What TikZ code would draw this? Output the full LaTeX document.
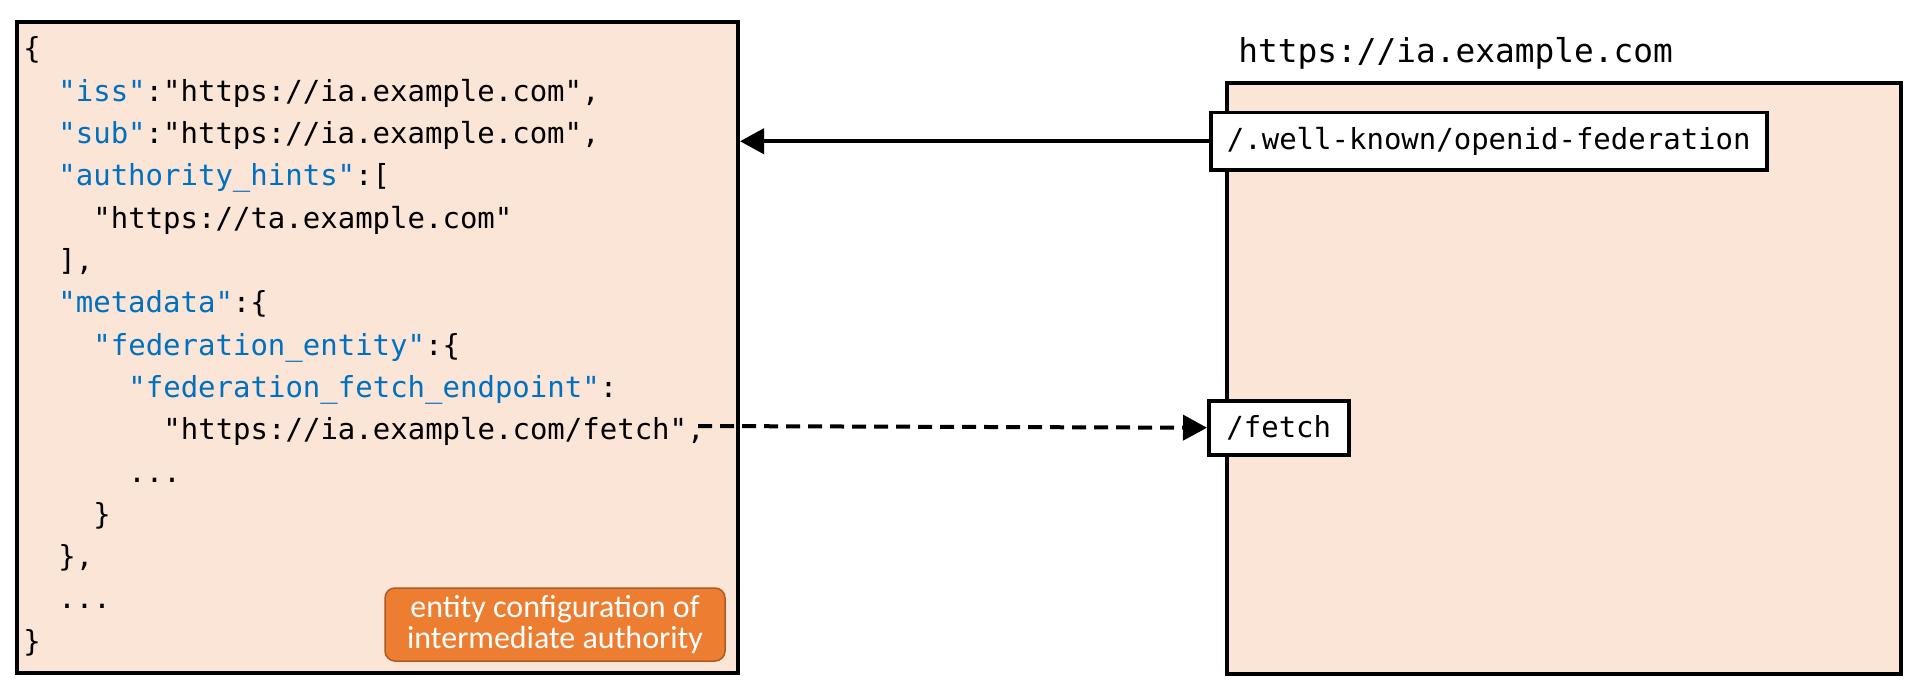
\documentclass[tikz,border=0pt]{standalone}
\usepackage{fontspec}
\usetikzlibrary{arrows.meta}
\newfontfamily\codefont{DejaVu Sans Mono}
\newfontfamily\labelfont{Carlito}
\definecolor{boxfill}{RGB}{251,229,214}
\definecolor{keyblue}{RGB}{0,112,192}
\definecolor{tagorange}{RGB}{237,125,49}
\definecolor{tagborder}{RGB}{174,90,33}
\newcommand{\ky}[1]{\textcolor{keyblue}{#1}}
\begin{document}
\begin{tikzpicture}[x=0.5pt,y=-0.5pt,
  panel/.style={draw=black, line width=2pt, fill=boxfill, inner sep=0pt, anchor=north west},
  endpoint/.style={draw=black, line width=1.75pt, fill=white, inner sep=0pt, anchor=north west,
    font=\codefont\fontsize{14.5}{17}\selectfont},
  code/.style={anchor=base west, inner sep=0pt, font=\codefont\fontsize{14.5}{17}\selectfont},
  title/.style={anchor=base west, inner sep=0pt, font=\codefont\fontsize{16.4}{19}\selectfont},
  tag/.style={draw=tagborder, line width=0.75pt, fill=tagorange, rounded corners=5pt, text=white,
    align=center, inner sep=0pt, minimum width=170pt, minimum height=36.5pt,
    font=\labelfont\fontsize{16}{15.3}\selectfont},
  conn/.style={line width=2pt, -{Triangle[length=12pt,width=12.5pt]}}
]
\useasboundingbox (0,0) rectangle (1920,690);

% left panel: entity configuration
\node[panel, minimum width=360.5pt, minimum height=325.5pt] (ec) at (15,20) {};
% right panel: server
\node[panel, minimum width=337pt, minimum height=295.5pt] (srv) at (1225,81) {};
\node[title] (srvtitle) at (1238,63) {https://ia.example.com};

% endpoints
\node[endpoint, minimum width=278pt, minimum height=28.5pt] (wk) at (1209,111) {/.well-known/openid-federation};
\node[endpoint, minimum width=70pt, minimum height=27pt] (ft) at (1207,399) {/fetch};

% code lines
\node[code] (c0)  at (23,59)      {\{};
\node[code] (c1)  at (58,101.3)   {\ky{"iss"}:"https://ia.example.com",};
\node[code] (c2)  at (58,143.6)   {\ky{"sub"}:"https://ia.example.com",};
\node[code] (c3)  at (58,185.9)   {\ky{"authority\_hints"}:[};
\node[code] (c4)  at (93,228.2)   {"https://ta.example.com"};
\node[code] (c5)  at (58,270.5)   {],};
\node[code] (c6)  at (58,312.8)   {\ky{"metadata"}:\{};
\node[code] (c7)  at (93,355.1)   {\ky{"federation\_entity"}:\{};
\node[code] (c8)  at (128,397.4)  {\ky{"federation\_fetch\_endpoint"}:};
\node[code] (c9)  at (163,439.7)  {"https://ia.example.com/fetch",};
\node[code] (c10) at (128,482)    {...};
\node[code] (c11) at (93,524.3)   {\}};
\node[code] (c12) at (58,566.6)   {\},};
\node[code] (c13) at (58,608.9)   {...};
\node[code] (c14) at (23,651.2)   {\}};

% label
\node[tag] (lbl) at (555,624.5) {entity configuration of\\intermediate authority};

% connectors
\draw[conn] (wk.west) -- (wk.west -| ec.east);
\coordinate (ds) at (698,426);
\draw[conn, dash pattern=on 7pt off 4pt] (ds) -- (ft.west);
\end{tikzpicture}
\end{document}
